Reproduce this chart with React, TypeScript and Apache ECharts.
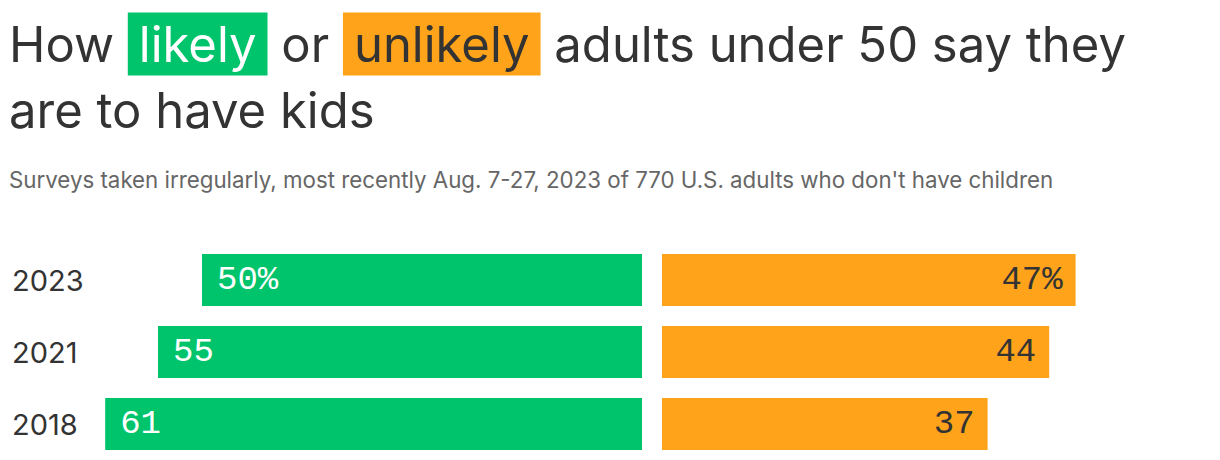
import React, { useEffect, useRef } from "react";
import * as echarts from "echarts";

const years = ["2023", "2021", "2018"];
const likely = [50, 55, 61];
const unlikely = [47, 44, 37];

const GREEN = "#00c46b";
const ORANGE = "#ffa41a";
const DARK = "#333333";
const FONT = "Inter";
const MONO = "Liberation Mono";

export default function App() {
  const ref = useRef<HTMLDivElement>(null);
  useEffect(() => {
    const chart = echarts.init(ref.current!, null, { renderer: "svg" });
    const fmt = (p: any) => (p.dataIndex === 0 ? p.value + "%" : String(p.value));
    chart.setOption({
      animation: false,
      backgroundColor: "#ffffff",
      title: [
        {
          left: 9,
          top: 11,
          padding: 0,
          text: "How {g|likely} or {o|unlikely} adults under 50 say they\nare to have kids",
          textStyle: {
            fontFamily: FONT,
            fontSize: 49,
            fontWeight: "normal",
            color: DARK,
            lineHeight: 66,
            rich: {
              g: {
                fontFamily: FONT,
                fontSize: 49,
                color: "#ffffff",
                backgroundColor: GREEN,
                padding: [7, 11],
              },
              o: {
                fontFamily: FONT,
                fontSize: 49,
                color: DARK,
                backgroundColor: ORANGE,
                padding: [7, 11],
              },
            },
          },
        },
        {
          left: 9,
          top: 167,
          padding: 0,
          text: "Surveys taken irregularly, most recently Aug. 7-27, 2023 of 770 U.S. adults who don't have children",
          textStyle: {
            fontFamily: FONT,
            fontSize: 22.3,
            fontWeight: "normal",
            color: "#666666",
            lineHeight: 24,
          },
        },
      ],
      grid: [
        { left: 26, right: 578, top: 244, height: 216 },
        { left: 662, right: 30, top: 244, height: 216 },
      ],
      xAxis: [
        { type: "value", gridIndex: 0, min: 0, max: 70, inverse: true, show: false },
        { type: "value", gridIndex: 1, min: 0, max: 60, show: false },
      ],
      yAxis: [
        {
          type: "category",
          gridIndex: 0,
          data: years,
          inverse: true,
          position: "left",
          axisLine: { show: false, onZero: false },
          axisTick: { show: false },
          splitLine: { show: false },
          axisLabel: {
            margin: 14,
            align: "left",
            fontFamily: FONT,
            fontSize: 29,
            color: DARK,
            padding: [0, 0, 6, 0],
          },
        },
        {
          type: "category",
          gridIndex: 1,
          data: years,
          inverse: true,
          show: false,
        },
      ],
      series: [
        {
          type: "bar",
          name: "likely",
          xAxisIndex: 0,
          yAxisIndex: 0,
          data: likely,
          barWidth: 52,
          itemStyle: { color: GREEN },
          label: {
            show: true,
            position: "insideLeft",
            distance: 15,
            formatter: fmt,
            fontFamily: MONO,
            fontSize: 34,
            color: "#ffffff",
          },
        },
        {
          type: "bar",
          name: "unlikely",
          xAxisIndex: 1,
          yAxisIndex: 1,
          data: unlikely,
          barWidth: 52,
          itemStyle: { color: ORANGE },
          label: {
            show: true,
            position: "insideRight",
            distance: 13,
            formatter: fmt,
            fontFamily: MONO,
            fontSize: 34,
            color: DARK,
          },
        },
      ],
    });
    return () => chart.dispose();
  }, []);
  return (
    <div
      ref={ref}
      style={{ position: "fixed", left: 0, top: 0, width: 1220, height: 460 }}
    />
  );
}
